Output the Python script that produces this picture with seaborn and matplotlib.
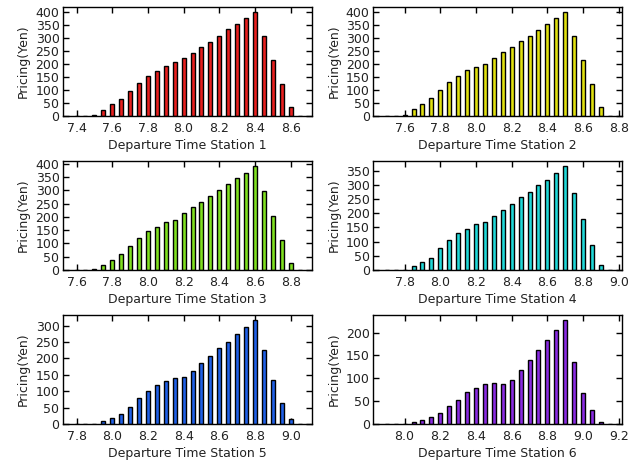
import numpy as np
import pandas as pd
import seaborn as sns
import matplotlib
matplotlib.use("Agg")
import matplotlib.pyplot as plt
from matplotlib.ticker import MultipleLocator, FormatStrFormatter

# Departure times (hours) per station
times_1 = [7.40, 7.45, 7.50, 7.55, 7.60, 7.65, 7.70, 7.75, 7.80, 7.85, 7.90, 7.95, 8.00,
           8.05, 8.10, 8.15, 8.20, 8.25, 8.30, 8.35, 8.40, 8.45, 8.50, 8.55, 8.60, 8.65]
times_2 = [7.50, 7.55, 7.60, 7.65, 7.70, 7.75, 7.80, 7.85, 7.90, 7.95, 8.00, 8.05, 8.10,
           8.15, 8.20, 8.25, 8.30, 8.35, 8.40, 8.45, 8.50, 8.55, 8.60, 8.65, 8.70, 8.75]
times_3 = [7.60, 7.65, 7.70, 7.75, 7.80, 7.85, 7.90, 7.95, 8.00, 8.05, 8.10, 8.15, 8.20,
           8.25, 8.30, 8.35, 8.40, 8.45, 8.50, 8.55, 8.60, 8.65, 8.70, 8.75, 8.80, 8.85]
times_4 = [7.70, 7.75, 7.80, 7.85, 7.90, 7.95, 8.00, 8.05, 8.10, 8.15, 8.20, 8.25, 8.30,
           8.35, 8.40, 8.45, 8.50, 8.55, 8.60, 8.65, 8.70, 8.75, 8.80, 8.85, 8.90, 8.95]
times_5 = [7.80, 7.85, 7.90, 7.95, 8.00, 8.05, 8.10, 8.15, 8.20, 8.25, 8.30, 8.35, 8.40,
           8.45, 8.50, 8.55, 8.60, 8.65, 8.70, 8.75, 8.80, 8.85, 8.90, 8.95, 9.00, 9.05]
times_6 = [7.90, 7.95, 8.00, 8.05, 8.10, 8.15, 8.20, 8.25, 8.30, 8.35, 8.40, 8.45, 8.50,
           8.55, 8.60, 8.65, 8.70, 8.75, 8.80, 8.85, 8.90, 8.95, 9.00, 9.05, 9.10, 9.15]

# Pricing (Yen) per station
price_1 = [0, 0, 3, 24, 46, 67, 98, 127, 153, 175, 192, 206, 222,
           244, 265, 286, 308, 334, 356, 377, 400, 308, 214, 123, 33, 1]
price_2 = [0, 0, 3, 25, 46, 68, 100, 130, 155, 176, 188, 200, 222,
           245, 265, 288, 308, 330, 355, 378, 400, 308, 214, 124, 33, 0]
price_3 = [0, 0, 3, 20, 38, 59, 92, 121, 147, 163, 180, 189, 215,
           236, 257, 278, 303, 324, 345, 366, 391, 299, 205, 113, 25, 0]
price_4 = [0, 0, 1, 15, 27, 42, 79, 107, 131, 146, 161, 169, 189,
           213, 233, 256, 276, 299, 319, 343, 366, 272, 180, 90, 18, 0]
price_5 = [0, 0, 0, 10, 18, 32, 53, 80, 100, 118, 132, 139, 142,
           163, 187, 207, 231, 251, 275, 296, 316, 227, 135, 63, 15, 0]
price_6 = [0, 0, 1, 5, 10, 15, 25, 40, 52, 70, 79, 87, 89,
           87, 96, 119, 141, 163, 183, 205, 227, 136, 67, 30, 5, 0]

station_labels = ["Departure Time Station 1", "Departure Time Station 2",
                  "Departure Time Station 3", "Departure Time Station 4",
                  "Departure Time Station 5", "Departure Time Station 6"]
bar_colors = ["#e8201f", "#e0e010", "#80e020", "#20d8d8", "#2060e8", "#8a2be2"]

all_times = [times_1, times_2, times_3, times_4, times_5, times_6]
all_prices = [price_1, price_2, price_3, price_4, price_5, price_6]

sns.set_style("white", {
    "xtick.direction": "in", "ytick.direction": "in",
    "xtick.top": True, "ytick.right": True,
    "xtick.bottom": True, "ytick.left": True,
    "axes.edgecolor": "black",
})
plt.rcParams["font.family"] = ["DejaVu Sans"]
plt.rcParams["xtick.major.size"] = 4
plt.rcParams["ytick.major.size"] = 4
plt.rcParams["xtick.major.width"] = 1
plt.rcParams["ytick.major.width"] = 1
plt.rcParams["axes.linewidth"] = 1

fig, axes = plt.subplots(3, 2, figsize=(6.36, 4.62), dpi=100)
fig.subplots_adjust(left=0.099, right=0.978, bottom=0.082, top=0.985,
                    wspace=0.247, hspace=0.413)

for ax, t, p, lab, col in zip(axes.flat, all_times, all_prices, station_labels, bar_colors):
    df = pd.DataFrame({"time": t, "price": p})
    sns.barplot(data=df, x="time", y="price", native_scale=True, color=col,
                saturation=1, edgecolor="black", linewidth=1, width=0.45, ax=ax)
    ax.set_xlim(t[0] - 0.076, t[-1] + 0.068)
    ax.set_ylim(0, max(p) * 1.05)
    ax.xaxis.set_major_locator(MultipleLocator(0.2))
    ax.yaxis.set_major_locator(MultipleLocator(50))
    ax.xaxis.set_major_formatter(FormatStrFormatter("%.1f"))
    ax.tick_params(axis="x", labelsize=9, colors="black", labelcolor="#222222", pad=4)
    ax.tick_params(axis="y", labelsize=9, colors="black", labelcolor="#222222", pad=2.5)
    ax.set_xlabel(lab, fontsize=9, color="#222222", labelpad=3)
    ax.set_ylabel("Pricing(Yen)", fontsize=9, color="#222222", labelpad=4)
    for s in ax.spines.values():
        s.set_visible(True)
        s.set_color("black")

fig.savefig("out.png", dpi=100, facecolor="white")
